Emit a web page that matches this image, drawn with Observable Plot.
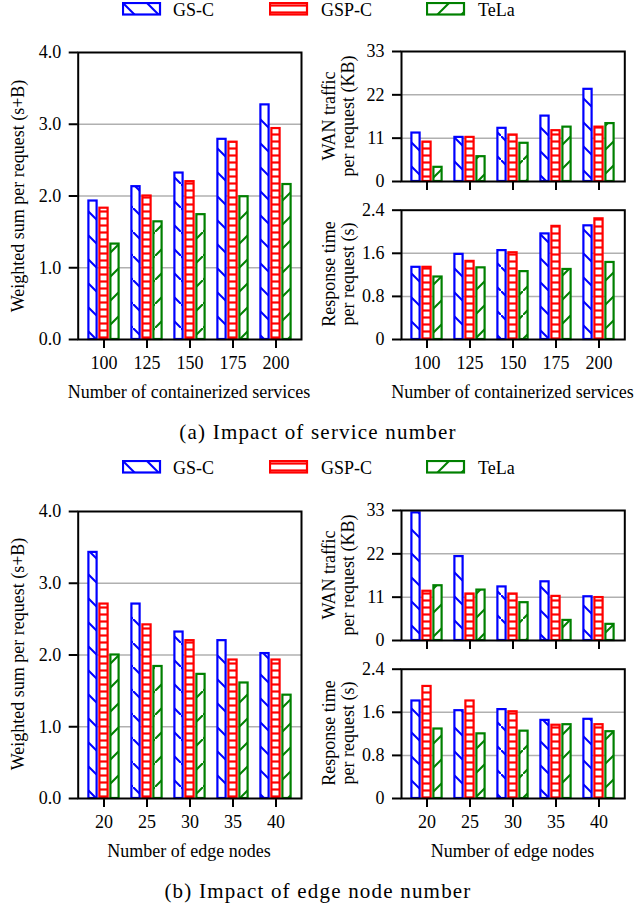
<!DOCTYPE html>
<html><head><meta charset="utf-8">
<script src="https://cdn.jsdelivr.net/npm/d3@7"></script>
<script src="https://cdn.jsdelivr.net/npm/@observablehq/plot@0.6"></script>
<style>
body{margin:0;background:#fff;}
#root{position:relative;width:635px;height:906px;overflow:hidden;font-family:"Liberation Serif","Times New Roman",Times,serif;color:#000;background:#fff;}
.t{position:absolute;font-size:18px;white-space:nowrap;line-height:18px;}
.c{transform:translate(-50%,-50%);text-align:center;}
.r{transform:translate(-50%,-50%) rotate(-90deg);text-align:center;}
.cap{position:absolute;font-size:21px;letter-spacing:1.2px;white-space:nowrap;line-height:21px;transform:translate(-50%,-50%);}
</style></head>
<body><div id="root">
<svg width="0" height="0" style="position:absolute">
<defs>
<pattern id="hatch-gs" patternUnits="userSpaceOnUse" width="24" height="24">
<rect width="24" height="24" fill="#fff"/>
<path d="M-2,-2 L26,26" stroke="#0000ff" stroke-width="2"/>
</pattern>
<pattern id="hatch-gsp" patternUnits="userSpaceOnUse" width="8" height="7">
<rect width="8" height="7" fill="#fff"/>
<path d="M-1,3.5 L9,3.5" stroke="#ff0000" stroke-width="2.2"/>
</pattern>
<pattern id="hatch-tela" patternUnits="userSpaceOnUse" width="24" height="24">
<rect width="24" height="24" fill="#fff"/>
<path d="M-2,26 L26,-2" stroke="#008000" stroke-width="2"/>
</pattern>
</defs>
</svg>
</div>
<script>
// ---- Data ----
const seriesNames = ["GS-C", "GSP-C", "TeLa"];
const seriesColors = ["#0000ff", "#ff0000", "#008000"];
const seriesPatterns = ["hatch-gs", "hatch-gsp", "hatch-tela"];

const services = [100, 125, 150, 175, 200];
const edgeNodes = [20, 25, 30, 35, 40];

// (a) Impact of service number
const aWeightedGS   = [1.93, 2.13, 2.32, 2.79, 3.27];
const aWeightedGSP  = [1.83, 2.00, 2.20, 2.75, 2.94];
const aWeightedTeLa = [1.33, 1.64, 1.74, 1.99, 2.16];
const aWanGS   = [12.3, 11.2, 13.5, 16.6, 23.4];
const aWanGSP  = [10.0, 11.2, 11.8, 12.9, 13.8];
const aWanTeLa = [3.6, 6.3, 9.7, 13.8, 14.7];
const aRespGS   = [1.34, 1.58, 1.65, 1.96, 2.11];
const aRespGSP  = [1.34, 1.45, 1.61, 2.10, 2.24];
const aRespTeLa = [1.16, 1.33, 1.26, 1.30, 1.43];

// (b) Impact of edge node number
const bWeightedGS   = [3.43, 2.71, 2.32, 2.20, 2.02];
const bWeightedGSP  = [2.71, 2.42, 2.20, 1.93, 1.93];
const bWeightedTeLa = [2.00, 1.84, 1.73, 1.61, 1.44];
const bWanGS   = [32.4, 21.3, 13.6, 14.9, 11.1];
const bWanGSP  = [12.5, 11.8, 11.8, 11.2, 10.9];
const bWanTeLa = [13.9, 12.8, 9.6, 5.1, 4.1];
const bRespGS   = [1.81, 1.63, 1.65, 1.45, 1.47];
const bRespGSP  = [2.08, 1.81, 1.61, 1.36, 1.37];
const bRespTeLa = [1.29, 1.20, 1.25, 1.37, 1.24];

const weightedTicks = [0, 1, 2, 3, 4];
const wanTicks = [0, 11, 22, 33];
const respTicks = [0, 0.8, 1.6, 2.4];

const labels = {
  weighted: "Weighted sum per request (s+B)",
  wan: ["WAN traffic", "per request (KB)"],
  resp: ["Response time", "per request (s)"],
  xServices: "Number of containerized services",
  xEdge: "Number of edge nodes",
  capA: "(a) Impact of service number",
  capB: "(b) Impact of edge node number"
};

// ---- Helpers ----
const root = document.getElementById("root");

function place(el, left, top) {
  el.style.position = "absolute";
  el.style.left = left + "px";
  el.style.top = top + "px";
  root.appendChild(el);
}

function text(str, x, y, cls) {
  const d = document.createElement("div");
  d.className = "t " + cls;
  d.textContent = str;
  d.style.left = x + "px";
  d.style.top = y + "px";
  root.appendChild(d);
  return d;
}

function text2(lines, x, y) {
  const d = document.createElement("div");
  d.className = "t r";
  d.style.lineHeight = "19px";
  d.innerHTML = lines.map(l => `<div>${l}</div>`).join("");
  d.style.left = x + "px";
  d.style.top = y + "px";
  root.appendChild(d);
}

function chart({cats, values, yMax, ticks, fmt, grid, showX, left, top, width, height, mt, mb, ml, mr}) {
  const marks = [Plot.gridY(grid, {stroke: "#b0b0b0", strokeOpacity: 1, strokeWidth: 1.5})];
  values.forEach((vals, i) => {
    marks.push(Plot.barY(vals, {
      x: cats, y: vals, dx: (i - 1) * 11,
      fill: `url(#${seriesPatterns[i]})`, stroke: seriesColors[i], strokeWidth: 2.2,
      insetLeft: 1.4, insetRight: 1.4
    }));
  });
  marks.push(Plot.frame({stroke: "black", strokeWidth: 2}));
  marks.push(Plot.axisY({ticks, tickFormat: fmt, tickSize: 9, tickPadding: 8, strokeWidth: 2, label: null}));
  const xo = {tickSize: 9, tickPadding: 8, strokeWidth: 2, label: null};
  if (!showX) xo.tickFormat = () => "";
  marks.push(Plot.axisX(xo));
  const svg = Plot.plot({
    width, height,
    marginTop: mt, marginBottom: mb, marginLeft: ml, marginRight: mr,
    style: {fontFamily: "Liberation Serif, Times New Roman, Times, serif", fontSize: "18px", color: "black", background: "transparent", overflow: "visible"},
    x: {type: "band", domain: cats, paddingInner: 0.75, paddingOuter: 0.45, axis: null},
    y: {domain: [0, yMax], axis: null},
    marks
  });
  place(svg, left, top);
}

function legend(top) {
  const patchX = [122, 269, 426];
  const textX = [173, 321, 478];
  seriesNames.forEach((name, i) => {
    const ns = "http://www.w3.org/2000/svg";
    const s = document.createElementNS(ns, "svg");
    s.setAttribute("width", 40); s.setAttribute("height", 14);
    const r = document.createElementNS(ns, "rect");
    r.setAttribute("x", 1); r.setAttribute("y", 1);
    r.setAttribute("width", 37); r.setAttribute("height", 11.5);
    r.setAttribute("fill", `url(#${seriesPatterns[i]})`);
    r.setAttribute("stroke", seriesColors[i]);
    r.setAttribute("stroke-width", 2.2);
    s.appendChild(r);
    place(s, patchX[i], top);
    text(name, textX[i], top - 1, "");
  });
}

const fmt1 = d3.format(".1f");
const fmtInt = d => String(d);
const fmtResp = d => d === 0 ? "0" : d.toFixed(1);

function panel(offY, cats, W, N, R, xLabel, caption) {
  legend(offY + 1.5);
  chart({cats, values: W, yMax: 4, ticks: weightedTicks, fmt: fmt1, grid: [1, 2, 3], showX: true,
    left: 0, top: offY + 40, width: 310, height: 340, mt: 12, mb: 41, ml: 77.7, mr: 9});
  chart({cats, values: N, yMax: 33, ticks: wanTicks, fmt: fmtInt, grid: [11, 22], showX: false,
    left: 320, top: offY + 40, width: 315, height: 150, mt: 11, mb: 9, ml: 81, mr: 10.7});
  chart({cats, values: R, yMax: 2.4, ticks: respTicks, fmt: fmtResp, grid: [0.8, 1.6], showX: true,
    left: 320, top: offY + 195, width: 315, height: 180, mt: 14.7, mb: 36, ml: 81, mr: 10.7});
  text(labels.weighted, 18, offY + 195.5, "r");
  text2(labels.wan, 339, offY + 116);
  text2(labels.resp, 339, offY + 274);
  text(xLabel, 189, offY + 392, "c");
  text(xLabel, 512.5, offY + 392, "c");
  const cap = document.createElement("div");
  cap.className = "cap";
  cap.textContent = caption;
  cap.style.left = "318px";
  cap.style.top = (offY + 432) + "px";
  root.appendChild(cap);
}

panel(0, services,
  [aWeightedGS, aWeightedGSP, aWeightedTeLa],
  [aWanGS, aWanGSP, aWanTeLa],
  [aRespGS, aRespGSP, aRespTeLa],
  labels.xServices, labels.capA);

panel(458.7, edgeNodes,
  [bWeightedGS, bWeightedGSP, bWeightedTeLa],
  [bWanGS, bWanGSP, bWanTeLa],
  [bRespGS, bRespGSP, bRespTeLa],
  labels.xEdge, labels.capB);
</script>
</body></html>
